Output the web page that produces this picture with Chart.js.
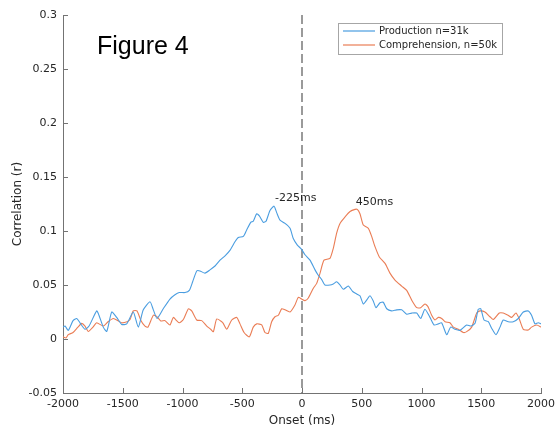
<!DOCTYPE html>
<html><head><meta charset="utf-8">
<script src="https://cdn.jsdelivr.net/npm/chart.js@4/dist/chart.umd.min.js"></script>
<style>html,body{margin:0;padding:0;background:#fff;}#wrap{width:555px;height:429px;}</style>
</head><body><div id="wrap"><canvas id="c" width="555" height="429"></canvas></div>
<script>
const seriesNames = ['Production n=31k', 'Comprehension, n=50k'];
const prodMs = [-2000,-1983,-1956,-1916,-1885,-1858,-1816,-1782,-1718,-1699,-1663,-1634,-1592,-1551,-1509,-1467,-1412,-1370,-1328,-1272,-1244,-1213,-1161,-1105,-1063,-1027,-979,-943,-915,-881,-854,-812,-770,-728,-686,-644,-603,-561,-533,-491,-463,-429,-408,-379,-357,-324,-301,-268,-234,-212,-184,-142,-100,-73,-39,-3,25,67,109,136,165,192,234,262,290,318,346,387,424,458,485,513,541,569,597,619,653,680,709,751,792,834,876,918,960,993,1029,1071,1105,1141,1169,1211,1244,1280,1322,1378,1414,1448,1475,1496,1523,1559,1587,1623,1657,1684,1726,1768,1810,1852,1894,1921,1950,1977,2000];
const prodR = [0.011,0.012,0.008,0.017,0.019,0.015,0.009,0.012,0.026,0.022,0.011,0.007,0.025,0.020,0.0135,0.014,0.025,0.011,0.027,0.0345,0.027,0.019,0.028,0.037,0.041,0.043,0.043,0.045,0.053,0.063,0.063,0.061,0.064,0.0676,0.073,0.077,0.082,0.090,0.094,0.095,0.101,0.108,0.109,0.116,0.114,0.108,0.109,0.119,0.123,0.117,0.110,0.107,0.1025,0.093,0.087,0.083,0.078,0.073,0.064,0.059,0.055,0.050,0.050,0.051,0.053,0.050,0.046,0.049,0.044,0.0417,0.040,0.0324,0.036,0.040,0.035,0.029,0.0336,0.034,0.028,0.026,0.027,0.027,0.023,0.024,0.024,0.019,0.0275,0.020,0.013,0.014,0.015,0.004,0.011,0.009,0.008,0.013,0.012,0.0145,0.0275,0.028,0.0176,0.016,0.010,0.004,0.011,0.0176,0.016,0.016,0.019,0.025,0.026,0.022,0.014,0.015,0.014];
const compMs = [-2000,-1975,-1956,-1916,-1875,-1843,-1816,-1788,-1749,-1718,-1663,-1623,-1579,-1540,-1509,-1464,-1439,-1412,-1381,-1347,-1314,-1289,-1244,-1216,-1182,-1146,-1105,-1077,-1049,-1027,-993,-951,-923,-881,-839,-797,-764,-742,-714,-672,-659,-630,-588,-546,-519,-485,-441,-408,-379,-337,-310,-282,-254,-226,-198,-170,-142,-100,-59,-31,-3,25,53,95,123,151,184,234,262,290,318,360,402,444,463,485,513,555,583,611,647,695,736,778,834,876,918,960,993,1029,1054,1085,1113,1141,1169,1197,1238,1266,1308,1350,1378,1420,1462,1489,1531,1573,1601,1651,1684,1724,1755,1791,1820,1852,1894,1921,1964,2000];
const compR = [0.002,0.001,0.004,0.006,0.011,0.0145,0.012,0.007,0.011,0.015,0.012,0.016,0.019,0.017,0.015,0.016,0.018,0.026,0.026,0.017,0.012,0.011,0.022,0.021,0.0167,0.017,0.013,0.020,0.017,0.015,0.018,0.028,0.026,0.0176,0.017,0.012,0.009,0.0068,0.0185,0.016,0.0145,0.009,0.0176,0.020,0.014,0.006,0.002,0.011,0.014,0.013,0.006,0.0052,0.016,0.0206,0.022,0.028,0.027,0.025,0.0315,0.0386,0.037,0.0355,0.038,0.047,0.0515,0.061,0.073,0.0747,0.084,0.098,0.107,0.113,0.118,0.120,0.120,0.116,0.1055,0.1025,0.095,0.0855,0.076,0.070,0.061,0.0546,0.049,0.045,0.036,0.029,0.029,0.0324,0.030,0.022,0.0176,0.020,0.019,0.016,0.015,0.011,0.009,0.006,0.0068,0.011,0.024,0.026,0.025,0.0206,0.018,0.024,0.024,0.022,0.020,0.024,0.018,0.009,0.0083,0.011,0.013,0.011];
const xTicks = [-2000,-1500,-1000,-500,0,500,1000,1500,2000];
const xTickLabels = ['-2000','-1500','-1000','-500','0','500','1000','1500','2000'];
const yTicks = [-0.05,0,0.05,0.1,0.15,0.2,0.25,0.3];
const yTickLabels = ['-0.05','0','0.05','0.1','0.15','0.2','0.25','0.3'];
const peakNotes = [{ms:-225, r:0.1305, text:'-225ms'}, {ms:450, r:0.1268, text:'450ms'}];
const figureTitle = 'Figure 4';
const onsetMs = 0;

const BLUE = '#4a9de0', ORANGE = '#ea7d55', TEXT = '#262626', AXIS = '#737373';
const FONT = "'DejaVu Sans', sans-serif";

const extras = {
  id: 'extras',
  beforeDatasetsDraw(chart) {
    const {ctx, chartArea: a, scales: {x}} = chart;
    const px = x.getPixelForValue(onsetMs);
    ctx.save();
    ctx.strokeStyle = '#9a9a9a';
    ctx.lineWidth = 2;
    ctx.setLineDash([9, 4]);
    ctx.beginPath();
    ctx.moveTo(px, a.top);
    ctx.lineTo(px, a.bottom);
    ctx.stroke();
    ctx.restore();
  },
  afterDraw(chart) {
    const {ctx, chartArea: a, scales: {x, y}} = chart;
    ctx.save();
    ctx.strokeStyle = AXIS;
    ctx.lineWidth = 1;
    ctx.beginPath();
    xTicks.forEach(v => { const p = Math.round(x.getPixelForValue(v)) + 0.5; ctx.moveTo(p, a.bottom); ctx.lineTo(p, a.bottom - 5); });
    yTicks.forEach(v => { const p = Math.round(y.getPixelForValue(v)) + 0.5; ctx.moveTo(a.left, p); ctx.lineTo(a.left + 5, p); });
    ctx.stroke();
    ctx.fillStyle = TEXT;
    ctx.font = '11px ' + FONT;
    ctx.textBaseline = 'middle';
    ctx.textAlign = 'left';
    peakNotes.forEach(n => ctx.fillText(n.text, x.getPixelForValue(n.ms), y.getPixelForValue(n.r)));
    ctx.font = "25px 'Liberation Sans', Arial, sans-serif";
    ctx.fillStyle = '#000';
    ctx.fillText(figureTitle, 97, 47);
    const lx = 338.5, ly = 23.5, lw = 164, lh = 31;
    ctx.fillStyle = '#fff';
    ctx.fillRect(lx, ly, lw, lh);
    ctx.strokeStyle = '#a6a6a6';
    ctx.lineWidth = 1;
    ctx.strokeRect(lx, ly, lw, lh);
    const cols = [BLUE, ORANGE];
    const rows = [31, 45];
    ctx.font = '10px ' + FONT;
    seriesNames.forEach((nm, i) => {
      ctx.strokeStyle = cols[i];
      ctx.lineWidth = 1.2;
      ctx.beginPath();
      ctx.moveTo(343, rows[i]);
      ctx.lineTo(375, rows[i]);
      ctx.stroke();
      ctx.fillStyle = TEXT;
      ctx.fillText(nm, 379, rows[i]);
    });
    ctx.restore();
  }
};

new Chart(document.getElementById('c'), {
  type: 'line',
  data: {
    datasets: [
      { label: seriesNames[0], data: prodMs.map((m, i) => ({x: m, y: prodR[i]})), borderColor: BLUE, borderWidth: 1.1, pointRadius: 0, tension: 0.2, fill: false },
      { label: seriesNames[1], data: compMs.map((m, i) => ({x: m, y: compR[i]})), borderColor: ORANGE, borderWidth: 1.1, pointRadius: 0, tension: 0.2, fill: false }
    ]
  },
  options: {
    responsive: false,
    devicePixelRatio: 1,
    animation: false,
    layout: { padding: { top: 15, right: 14, left: 0, bottom: 0 } },
    plugins: { legend: { display: false }, tooltip: { enabled: false } },
    scales: {
      x: {
        type: 'linear', min: -2000, max: 2000,
        afterBuildTicks: s => { s.ticks = xTicks.map(v => ({value: v})); },
        afterFit: s => { s.height = 36; s.paddingLeft = 0; s.paddingRight = 0; },
        ticks: { callback: (v, i) => xTickLabels[i], color: TEXT, font: { family: FONT, size: 11 }, padding: 5, maxRotation: 0, autoSkip: false },
        grid: { display: false, drawTicks: false },
        border: { display: true, color: AXIS, width: 1 },
        title: { display: true, text: 'Onset (ms)', color: TEXT, font: { family: FONT, size: 12 }, padding: { top: 0, bottom: 1 } }
      },
      y: {
        type: 'linear', min: -0.05, max: 0.3,
        afterBuildTicks: s => { s.ticks = yTicks.map(v => ({value: v})); },
        afterFit: s => { s.width = 63; s.paddingTop = 0; s.paddingBottom = 0; },
        ticks: { callback: (v, i) => yTickLabels[i], color: TEXT, font: { family: FONT, size: 11 }, padding: 6, autoSkip: false },
        grid: { display: false, drawTicks: false },
        border: { display: true, color: AXIS, width: 1 },
        title: { display: true, text: 'Correlation (r)', color: TEXT, font: { family: FONT, size: 12 }, padding: { top: 11, bottom: 0 } }
      }
    }
  },
  plugins: [extras]
});
</script>
</body></html>
